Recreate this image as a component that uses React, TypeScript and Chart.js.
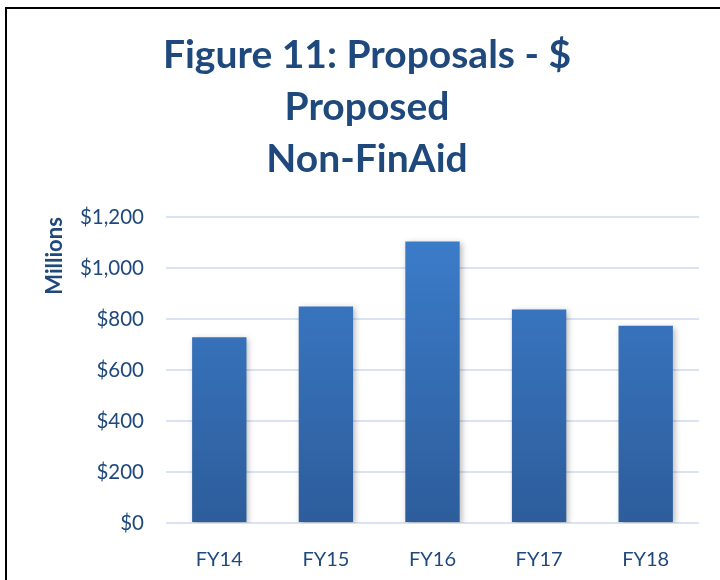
import React, { useEffect, useRef } from "react";
import { Chart, registerables } from "chart.js";

Chart.register(...registerables);

const categories = ["FY14", "FY15", "FY16", "FY17", "FY18"];
const proposedMillions = [729, 850, 1105, 838, 774];
const titleLines = ["Figure 11: Proposals - $", "Proposed", "Non-FinAid"];
const yAxisTitle = "Millions";

const TEXT = "#1F497D";
const FONT = "Lato, 'Open Sans', sans-serif";

const shadowPlugin = {
  id: "barShadow",
  beforeDatasetsDraw(chart: any) {
    const ctx = chart.ctx;
    ctx.save();
    ctx.shadowColor = "rgba(0,0,0,0.28)";
    ctx.shadowBlur = 6;
    ctx.shadowOffsetX = 2;
    ctx.shadowOffsetY = 2;
  },
  afterDatasetsDraw(chart: any) {
    chart.ctx.restore();
  },
};

export default function App() {
  const ref = useRef<HTMLCanvasElement | null>(null);
  useEffect(() => {
    if (!ref.current) return;
    const chart = new Chart(ref.current, {
      type: "bar",
      data: {
        labels: categories,
        datasets: [
          {
            data: proposedMillions,
            backgroundColor: (c: any) => {
              const area = c.chart.chartArea;
              if (!area) return "#3a7dcb";
              const g = c.chart.ctx.createLinearGradient(0, area.top, 0, area.bottom);
              g.addColorStop(0, "#3C7ECD");
              g.addColorStop(1, "#2D5D9B");
              return g;
            },
            borderWidth: 0,
            categoryPercentage: 1,
            barPercentage: 0.51,
          },
        ],
      },
      plugins: [shadowPlugin],
      options: {
        animation: false,
        responsive: false,
        layout: { padding: { left: 35, right: 21, top: 0, bottom: 0 } },
        plugins: {
          legend: { display: false },
          tooltip: { enabled: false },
          title: {
            display: true,
            text: titleLines,
            color: TEXT,
            font: { family: FONT, size: 39, weight: "bold", lineHeight: 1.335 },
            padding: { top: 29, bottom: 32 },
          },
        },
        scales: {
          x: {
            grid: { display: false },
            border: { display: false },
            ticks: { color: TEXT, font: { family: FONT, size: 20 }, padding: 17 },
            afterFit: (s: any) => {
              s.height = 57;
            },
          },
          y: {
            min: 0,
            max: 1200,
            ticks: {
              stepSize: 200,
              color: TEXT,
              font: { family: FONT, size: 20.5 },
              padding: 22,
              callback: (v: any) => "$" + Number(v).toLocaleString("en-US"),
            },
            grid: { color: "#D9E3F3", lineWidth: 2, drawTicks: false },
            border: { display: false },
            afterFit: (s: any) => {
              s.width = 131;
            },
            title: {
              display: true,
              text: yAxisTitle,
              align: "end",
              color: TEXT,
              font: { family: FONT, size: 22, weight: "bold" },
              padding: { top: 7, bottom: 0 },
            },
          },
        },
      },
    } as any);
    return () => chart.destroy();
  }, []);
  return (
    <div style={{ position: "absolute", left: 0, top: 0, width: 720, height: 580, overflow: "hidden", background: "#fff" }}>
      <div style={{ position: "absolute", left: 5, top: 7, width: 800, height: 800, borderLeft: "2px solid #000", borderTop: "2px solid #000", boxSizing: "border-box" }} />
      <canvas ref={ref} width={720} height={580} style={{ position: "absolute", left: 0, top: 0 }} />
    </div>
  );
}
